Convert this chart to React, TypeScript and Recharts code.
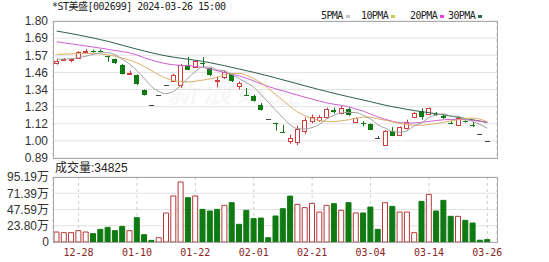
import React from "react";
import {
  ComposedChart,
  Bar,
  Line,
  XAxis,
  YAxis,
  CartesianGrid,
  Cell,
} from "recharts";

// trading days, 2023-12-25 .. 2024-03-26
const dates = [
  "12-25", "12-26", "12-27", "12-28", "12-29",
  "01-02", "01-03", "01-04", "01-05", "01-08", "01-09", "01-10", "01-11", "01-12",
  "01-15", "01-16", "01-17", "01-18", "01-19", "01-22", "01-23", "01-24", "01-25",
  "01-26", "01-29", "01-30", "01-31",
  "02-01", "02-02", "02-05", "02-06", "02-07", "02-08", "02-19", "02-20", "02-21",
  "02-22", "02-23", "02-26", "02-27", "02-28", "02-29",
  "03-01", "03-04", "03-05", "03-06", "03-07", "03-08", "03-11", "03-12", "03-13",
  "03-14", "03-15", "03-18", "03-19", "03-20", "03-21", "03-22", "03-25", "03-26",
];

const opens = [
  1.52, 1.543, 1.538, 1.555, 1.592, 1.6, 1.602, 1.565, 1.547, 1.51,
  1.45, 1.44, 1.34, 1.245, 1.307, 1.372, 1.4, 1.38, 1.51, 1.495,
  1.52, 1.485, 1.405, 1.425, 1.445, 1.365, 1.31, 1.3, 1.245, 1.15,
  1.122, 1.065, 1.003, 1.0, 1.065, 1.135, 1.14, 1.16, 1.21, 1.19,
  1.215, 1.13, 1.125, 1.118, 1.026, 0.98, 1.07, 1.04, 1.09, 1.165,
  1.205, 1.18, 1.18, 1.17, 1.125, 1.11, 1.135, 1.112, 1.051, 1.0,
];
const highs = [
  1.55, 1.555, 1.552, 1.6, 1.615, 1.61, 1.612, 1.57, 1.55, 1.515,
  1.47, 1.445, 1.345, 1.245, 1.307, 1.372, 1.45, 1.515, 1.562, 1.54,
  1.56, 1.49, 1.43, 1.47, 1.45, 1.4, 1.355, 1.31, 1.255, 1.15,
  1.125, 1.11, 1.045, 1.105, 1.16, 1.18, 1.175, 1.225, 1.225, 1.235,
  1.225, 1.16, 1.135, 1.12, 1.035, 1.075, 1.095, 1.1, 1.145, 1.195,
  1.22, 1.225, 1.195, 1.18, 1.135, 1.16, 1.14, 1.13, 1.051, 1.0,
];
const lows = [
  1.51, 1.535, 1.525, 1.55, 1.585, 1.59, 1.595, 1.53, 1.515, 1.445,
  1.447, 1.375, 1.305, 1.245, 1.307, 1.372, 1.395, 1.355, 1.475, 1.49,
  1.49, 1.435, 1.36, 1.415, 1.395, 1.345, 1.303, 1.265, 1.205, 1.15,
  1.073, 1.058, 0.985, 0.975, 1.05, 1.12, 1.13, 1.155, 1.185, 1.18,
  1.17, 1.12, 1.1, 1.075, 1.02, 0.975, 1.035, 1.035, 1.08, 1.16,
  1.145, 1.175, 1.17, 1.15, 1.115, 1.105, 1.125, 1.095, 1.051, 1.0,
];
const closes = [
  1.535, 1.545, 1.545, 1.595, 1.6, 1.598, 1.598, 1.56, 1.52, 1.452,
  1.452, 1.38, 1.31, 1.245, 1.307, 1.372, 1.441, 1.51, 1.48, 1.533,
  1.515, 1.44, 1.41, 1.46, 1.4, 1.385, 1.305, 1.27, 1.21, 1.15,
  1.12, 1.06, 1.025, 1.085, 1.14, 1.16, 1.16, 1.215, 1.195, 1.225,
  1.175, 1.155, 1.12, 1.08, 1.026, 1.07, 1.04, 1.095, 1.13, 1.19,
  1.165, 1.22, 1.178, 1.16, 1.12, 1.155, 1.13, 1.107, 1.051, 1.0,
];

const ma5 = [
  1.545, 1.547, 1.549, 1.556, 1.566, 1.578, 1.588, 1.59, 1.575, 1.546,
  1.514, 1.47, 1.42, 1.365, 1.332, 1.318, 1.332, 1.372, 1.42, 1.465,
  1.494, 1.494, 1.475, 1.47, 1.444, 1.418, 1.39, 1.361, 1.311, 1.26,
  1.207, 1.158, 1.11, 1.085, 1.083, 1.092, 1.113, 1.15, 1.173, 1.19,
  1.193, 1.192, 1.173, 1.15, 1.11, 1.089, 1.066, 1.061, 1.071, 1.104,
  1.123, 1.159, 1.176, 1.183, 1.169, 1.166, 1.149, 1.133, 1.112, 1.088,
];
const ma10 = [
  1.578, 1.58, 1.582, 1.584, 1.585, 1.584, 1.581, 1.575, 1.566, 1.553,
  1.54, 1.522, 1.498, 1.47, 1.442, 1.42, 1.404, 1.398, 1.395, 1.4,
  1.407, 1.415, 1.425, 1.443, 1.452, 1.452, 1.44, 1.418, 1.39, 1.352,
  1.312, 1.272, 1.232, 1.196, 1.172, 1.152, 1.138, 1.133, 1.131, 1.138,
  1.144, 1.153, 1.161, 1.161, 1.15, 1.141, 1.13, 1.119, 1.112, 1.108,
  1.107, 1.113, 1.119, 1.127, 1.136, 1.144, 1.152, 1.155, 1.148, 1.13,
];
const ma20 = [
  1.662, 1.655, 1.648, 1.641, 1.634, 1.627, 1.62, 1.612, 1.604, 1.597,
  1.588, 1.574, 1.556, 1.54, 1.527, 1.516, 1.509, 1.505, 1.503, 1.498,
  1.492, 1.482, 1.47, 1.458, 1.447, 1.435, 1.42, 1.402, 1.383, 1.365,
  1.35, 1.336, 1.322, 1.308, 1.294, 1.281, 1.268, 1.256, 1.247, 1.24,
  1.23, 1.215, 1.201, 1.182, 1.163, 1.147, 1.134, 1.125, 1.121, 1.123,
  1.127, 1.133, 1.139, 1.144, 1.146, 1.147, 1.145, 1.14, 1.134, 1.128,
];
const ma30 = [
  1.733, 1.725, 1.716, 1.707, 1.697, 1.687, 1.676, 1.665, 1.652, 1.639,
  1.626, 1.613, 1.601, 1.589, 1.578, 1.568, 1.56, 1.553, 1.546, 1.539,
  1.532, 1.523, 1.513, 1.503, 1.492, 1.481, 1.47, 1.459, 1.447, 1.435,
  1.422, 1.409, 1.396, 1.383, 1.37, 1.357, 1.344, 1.332, 1.32, 1.308,
  1.297, 1.286, 1.275, 1.264, 1.252, 1.241, 1.231, 1.222, 1.213, 1.205,
  1.198, 1.191, 1.184, 1.176, 1.168, 1.16, 1.152, 1.144, 1.135, 1.126,
];

// 万
const volumes = [
  14.6, 13.7, 13.7, 16.6, 14.6, 12.2, 18.5, 21.5, 16.6, 22.9,
  16.6, 35.6, 10.7, 2.4, 6.3, 42.5, 67.4, 87.9, 64.9, 67.4,
  47.8, 45.4, 47.8, 53.7, 57.6, 25.9, 46.4, 34.2, 35.1, 6.3,
  38.1, 48.8, 67.3, 55.1, 50.3, 56.6, 43.9, 53.7, 56.1, 46.4,
  57.6, 42.5, 42.5, 51.2, 18.5, 57.6, 52.2, 43.9, 43.9, 13.7,
  59.5, 69.8, 45.4, 61.0, 37.6, 37.6, 31.7, 27.8, 2.6, 3.48,
];
const volUp = [
  true, true, true, true, true, false, false, false, false, false,
  true, false, false, false, true, true, true, true, false, true,
  false, false, false, true, false, false, false, false, false, false,
  false, false, false, true, true, true, true, true, false, true,
  false, true, false, false, false, true, false, true, true, true,
  false, true, false, false, false, true, false, false, false, false,
];

const priceTicks = [0.89, 1.00375, 1.1175, 1.23125, 1.345, 1.45875, 1.5725, 1.68625, 1.8];
const priceLabels = ["0.89", "1.00", "1.12", "1.23", "1.34", "1.46", "1.57", "1.69", "1.80"];
const volTicks = [0, 23.7975, 47.595, 71.3925, 95.19];
const volLabels = ["0", "23.80万", "47.59万", "71.39万", "95.19万"];
const dateTicks = ["12-28", "01-10", "01-22", "02-01", "02-21", "03-04", "03-14", "03-26"];

const RED = "#d23c3c";
const GREEN = "#0f7a12";
const DOJI = "#444";
const MONO = "'DejaVu Sans Mono', 'Noto Sans CJK SC', monospace";
const SANS = "'Liberation Sans', Arial, 'Noto Sans CJK SC', sans-serif";

const rows = dates.map((d, i) => ({
  date: d,
  open: opens[i],
  high: highs[i],
  low: lows[i],
  close: closes[i],
  range: [lows[i], highs[i]],
  ma5: ma5[i],
  ma10: ma10[i],
  ma20: ma20[i],
  ma30: ma30[i],
  vol: volumes[i],
}));

const Candle = (props: any) => {
  const { x, y, width, height, payload } = props;
  const { open, close, high, low } = payload;
  const cx = Math.round(x + width / 2) + 0.5;
  const color = close > open ? RED : close < open ? GREEN : DOJI;
  const py = (v: number) =>
    high === low ? y : y + ((high - v) / (high - low)) * height;
  const top = py(Math.max(open, close));
  const bot = py(Math.min(open, close));
  const bx = Math.round(x) + 0.5;
  const bh = Math.max(Math.round(bot - top), 0);
  return (
    <g>
      <line x1={cx} x2={cx} y1={y} y2={y + height} stroke={color} strokeWidth={1} />
      {close > open ? (
        <rect x={bx} y={Math.round(top) + 0.5} width={width - 1} height={Math.max(bh, 1)} fill="#fff" stroke={color} strokeWidth={1} />
      ) : bh >= 2 ? (
        <rect x={bx - 0.5} y={Math.round(top)} width={width} height={bh} fill={color} />
      ) : (
        <line x1={bx - 0.5} x2={bx + width - 0.5} y1={Math.round(top) + 0.5} y2={Math.round(top) + 0.5} stroke={color} strokeWidth={1} />
      )}
    </g>
  );
};

const legendItems = [
  { label: "5PMA", color: "#c4c4c4", x: 321 },
  { label: "10PMA", color: "#cccc55", x: 361 },
  { label: "20PMA", color: "#f03cf0", x: 410 },
  { label: "30PMA", color: "#2d6a4c", x: 448 },
];

export default function App() {
  return (
    <div
      style={{
        position: "absolute",
        left: 0,
        top: 0,
        width: 549,
        height: 262,
        background: "#fff",
        overflow: "hidden",
        fontFamily: SANS,
      }}
    >
      <div style={{ position: "absolute", left: 52, top: 1, fontSize: 10, lineHeight: "12px", fontFamily: MONO, letterSpacing: -0.5, color: "#222", whiteSpace: "nowrap" }}>
        *ST美盛[002699] 2024-03-26 15:00
      </div>
      {legendItems.map((it) => (
        <div key={it.label} style={{ position: "absolute", left: it.x, top: 10, fontSize: 10, lineHeight: "12px", fontFamily: MONO, letterSpacing: -0.6, color: "#222", whiteSpace: "nowrap" }}>
          {it.label}
          <span style={{ display: "inline-block", width: 4, height: 3, background: it.color, marginLeft: 3, verticalAlign: "middle" }} />
        </div>
      ))}
      <div style={{ position: "absolute", left: 168, top: 68, fontSize: 30, fontWeight: 700, fontStyle: "italic", color: "rgba(0,0,0,0.05)", fontFamily: "'Noto Sans CJK SC'", whiteSpace: "nowrap", letterSpacing: 4 }}>
        新浪财经
      </div>

      <div style={{ position: "absolute", left: 0, top: 0 }}>
        <ComposedChart width={549} height={168} data={rows} margin={{ top: 21, right: 52, bottom: 9, left: 0 }}>
          <CartesianGrid vertical={false} stroke="#e2e2e2" />
          <CartesianGrid horizontal={false} stroke="#cfcfcf" strokeDasharray="3 3" />
          <XAxis dataKey="date" ticks={dateTicks} interval={0} tick={false} tickLine={false} axisLine={false} height={1} padding={{ left: 0, right: 6 }} />
          <YAxis
            domain={[0.89, 1.8]}
            allowDataOverflow
            ticks={priceTicks}
            interval={0}
            width={53}
            tickLine={false}
            axisLine={false}
            tickSize={0}
            tickMargin={5}
            tick={{ fontSize: 12, fill: "#333", fontFamily: SANS }}
            tickFormatter={(v: number) => priceLabels[priceTicks.indexOf(v)]}
          />
          <Line type="monotone" dataKey="ma30" stroke="#2d5e4c" strokeWidth={1} dot={false} isAnimationActive={false} />
          <Line type="monotone" dataKey="ma20" stroke="#d060d0" strokeWidth={1} dot={false} isAnimationActive={false} />
          <Line type="monotone" dataKey="ma10" stroke="#dcb068" strokeWidth={1} dot={false} isAnimationActive={false} />
          <Line type="monotone" dataKey="ma5" stroke="#a0a0a0" strokeWidth={1} dot={false} isAnimationActive={false} />
          <Bar dataKey="range" barSize={5} isAnimationActive={false} shape={(p: any) => <Candle {...p} />} />
        </ComposedChart>
      </div>

      <div style={{ position: "absolute", left: 55, top: 161, fontSize: 12, lineHeight: "14px", color: "#222", whiteSpace: "nowrap", fontFamily: SANS }}>
        成交量:34825
      </div>

      <div style={{ position: "absolute", left: 0, top: 160 }}>
        <ComposedChart width={549} height={102} data={rows} margin={{ top: 17, right: 52, bottom: 0, left: 0 }}>
          <CartesianGrid vertical={false} stroke="#e2e2e2" />
          <CartesianGrid horizontal={false} stroke="#cfcfcf" strokeDasharray="3 3" />
          <XAxis
            dataKey="date"
            ticks={dateTicks}
            interval={0}
            height={20}
            tickLine={false}
            axisLine={false}
            tickMargin={1}
            padding={{ left: 0, right: 6 }}
            tick={{ fontSize: 10, fill: "#8a2424", fontFamily: MONO }}
          />
          <YAxis
            domain={[0, 95.19]}
            allowDataOverflow
            ticks={volTicks}
            interval={0}
            width={53}
            tickLine={false}
            axisLine={false}
            tickSize={0}
            tickMargin={4}
            tick={{ fontSize: 12, fill: "#333", fontFamily: SANS }}
            tickFormatter={(v: number) => volLabels[volTicks.indexOf(v)]}
          />
          <Bar dataKey="vol" barSize={5} isAnimationActive={false}>
            {rows.map((r, i) => (
              <Cell key={r.date} fill={volUp[i] ? "#fff" : GREEN} stroke={volUp[i] ? "#b83838" : GREEN} />
            ))}
          </Bar>
        </ComposedChart>
      </div>

      <div style={{ position: "absolute", left: 53, top: 21, width: 443, height: 136, border: "1px solid #a8a8a8", pointerEvents: "none" }} />
      <div style={{ position: "absolute", left: 53, top: 177, width: 443, height: 64, border: "1px solid #a8a8a8", pointerEvents: "none" }} />
    </div>
  );
}
